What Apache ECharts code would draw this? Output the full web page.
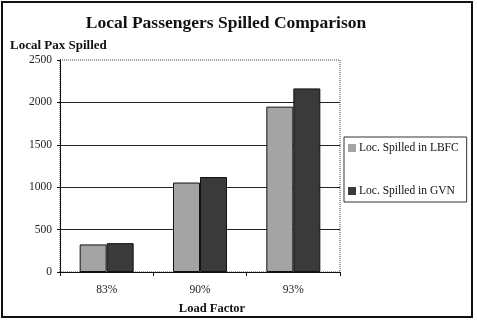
<!DOCTYPE html>
<html><head><meta charset="utf-8">
<script src="https://cdn.jsdelivr.net/npm/echarts@6/dist/echarts.min.js"></script>
<style>html,body{margin:0;padding:0;background:#fff}#c{width:477px;height:322px}</style>
</head><body><div id="c"></div>
<script>
const categories = ['83%', '90%', '93%'];
const lbfc = [325, 1055, 1950];
const gvn = [340, 1120, 2165];
const seriesNames = ['Loc. Spilled in LBFC', 'Loc. Spilled in GVN'];
const serif = 'Liberation Serif';
const chart = echarts.init(document.getElementById('c'));
chart.setOption({
  animation: false,
  backgroundColor: '#fff',
  title: {
    text: 'Local Passengers Spilled Comparison',
    left: 221, top: 9, textAlign: 'center',
    textStyle: {fontFamily: serif, fontSize: 17.5, fontWeight: 'bold', color: '#111'}
  },
  graphic: [{
    type: 'rect', shape: {x: 2, y: 2, width: 470, height: 315},
    style: {fill: 'none', stroke: '#111', lineWidth: 2}, silent: true
  }],
  legend: {
    orient: 'vertical', left: 344, top: 137,
    data: seriesNames,
    itemWidth: 8, itemHeight: 8, itemGap: 31, icon: 'rect',
    itemStyle: {borderWidth: 0},
    borderColor: '#333', borderWidth: 1, padding: [5, 8, 5, 4],
    textStyle: {fontFamily: serif, fontSize: 11.5, color: '#111', padding: [0, 0, 0, -2]}
  },
  grid: {left: 60, right: 137, top: 60, bottom: 50, show: true,
    borderColor: '#444', borderWidth: 1, borderType: 'dotted'},
  xAxis: {
    type: 'category', data: categories,
    name: 'Load Factor', nameLocation: 'middle', nameGap: 30,
    nameTextStyle: {fontFamily: serif, fontSize: 12.5, fontWeight: 'bold', color: '#111', padding: [0, 0, 0, 24]},
    axisLine: {lineStyle: {color: '#111', width: 1}},
    axisTick: {show: true, length: 4, lineStyle: {color: '#111'}},
    axisLabel: {fontFamily: serif, fontSize: 11.5, color: '#222', margin: 12}
  },
  yAxis: {
    type: 'value', min: 0, max: 2500, interval: 500,
    name: 'Local Pax Spilled', nameLocation: 'end', nameGap: 8,
    nameTextStyle: {fontFamily: serif, fontSize: 13, fontWeight: 'bold', color: '#111', align: 'left', padding: [0, 0, 0, -50]},
    axisLine: {show: true, lineStyle: {color: '#111', width: 1}},
    axisTick: {show: true, length: 3, lineStyle: {color: '#111'}},
    axisLabel: {fontFamily: serif, fontSize: 11.5, color: '#222', margin: 8, formatter: v => String(v)},
    splitLine: {show: true, showMaxLine: false, lineStyle: {color: '#222', width: 1}}
  },
  series: [
    {name: seriesNames[0], type: 'bar', data: lbfc, barWidth: 27, barGap: '0%',
      itemStyle: {color: '#a4a4a4', borderColor: '#111', borderWidth: 1}},
    {name: seriesNames[1], type: 'bar', data: gvn, barWidth: 27,
      itemStyle: {color: '#3a3a3a', borderColor: '#111', borderWidth: 1}}
  ]
});
</script></body></html>
